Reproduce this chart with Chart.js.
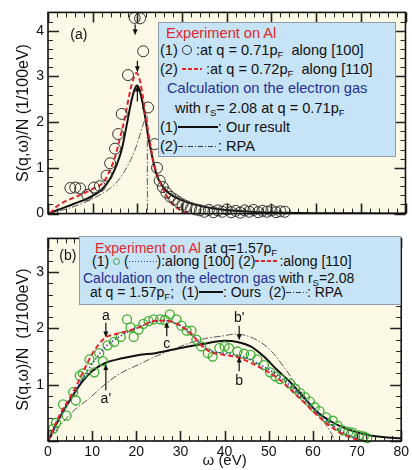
<!DOCTYPE html>
<html>
<head>
<meta charset="utf-8">
<script src="https://cdn.jsdelivr.net/npm/chart.js@4.4.1/dist/chart.umd.min.js"></script>
<style>
    body { margin: 0; background: #fff; }
    #wrap { position: relative; width: 412px; height: 470px; overflow: hidden; }
    canvas { position: absolute; left: 0; }
    .box { position: absolute; background: #c7e3f6; border: 1px solid #8f9daa; box-sizing: border-box;
           font-family: "Liberation Sans", Arial, Helvetica, sans-serif; color: #111; white-space: nowrap; }
    .box div { position: absolute; }
    #boxA { left: 158px; top: 22px; width: 238px; height: 135px; font-size: 14.6px; line-height: 16px; }
    #boxB { left: 79px; top: 236px; width: 322px; height: 69px; font-size: 14px; line-height: 15px; }
    .red { color: #e2232b; }
    .navy { color: #262f92; }
    sub { font-size: 9.5px; line-height: 0; vertical-align: -3px; }
    .smp { display: inline-block; vertical-align: 4px; }
    .solid { height: 2px; background: #111; }
    .dashR { height: 2px; background: repeating-linear-gradient(90deg, #e2232b 0 4px, transparent 4px 6px); }
    .dotB { height: 1px; background: repeating-linear-gradient(90deg, #2a3aa8 0 1px, transparent 1px 3px); }
    .dd { height: 1px; background: repeating-linear-gradient(90deg, #333 0 5px, transparent 5px 7px, #333 7px 8px, transparent 8px 10px); }
    .circ { display: inline-block; width: 8px; height: 8px; border: 1px solid #333; border-radius: 50%; vertical-align: 0; }
    .gc { display: inline-block; width: 5px; height: 5px; border: 1.5px solid #3aae34; border-radius: 50%; vertical-align: 1px; }
</style>
</head>
<body>
<div id="wrap">
    <canvas id="chartA" width="412" height="226" style="top:0"></canvas>
    <canvas id="chartB" width="412" height="244" style="top:226px"></canvas>

    <div class="box" id="boxA">
        <div style="top:2px;left:7px"><span class="red">Experiment on Al</span></div>
        <div style="top:19px;left:1px">(1) <span class="circ"></span> :at q = 0.71p<sub>F</sub>&nbsp; along [100]</div>
        <div style="top:38px;left:1px">(2) <span class="smp dashR" style="width:20px"></span> :at q = 0.72p<sub>F</sub>&nbsp; along [110]</div>
        <div style="top:57px;left:8px"><span class="navy">Calculation on the electron gas</span></div>
        <div style="top:77px;left:16px">with r<sub>S</sub>= 2.08 at q = 0.71p<sub>F</sub></div>
        <div style="top:96px;left:1px">(1)<span class="smp solid" style="width:40px"></span>: Our result</div>
        <div style="top:115px;left:1px">(2)<span class="smp dd" style="width:40px"></span>: RPA</div>
    </div>

    <div class="box" id="boxB">
        <div style="top:4px;left:15px"><span class="red">Experiment on Al</span> at q=1.57p<sub>F</sub></div>
        <div style="top:17px;left:12px">(1) <span class="gc"></span> (<span class="smp dotB" style="width:28px"></span>):along [100] (2)<span class="smp dashR" style="width:24px"></span>:along [110]</div>
        <div style="top:34px;left:3px"><span class="navy">Calculation on the electron gas</span> with r<sub>S</sub>=2.08</div>
        <div style="top:48px;left:10px">at q = 1.57p<sub>F</sub>;&nbsp; (1)<span class="smp solid" style="width:24px"></span>: Ours&nbsp; (2)<span class="smp dd" style="width:21px"></span>: RPA</div>
    </div>
</div>

<script>
// ---- datos panel (a): q = 0.71 pF ----
var aCircW = [5.0, 6.1, 7.2, 8.8, 10.3, 11.6, 13.1, 13.9, 15.0, 15.7, 16.5, 17.9, 19.4, 20.6, 21.3, 22.4, 23.9, 24.4, 25.0, 25.7,
              26.5, 27.4, 28.3, 29.2, 30.1, 31.0, 32.0, 33.0, 34.0, 35.0, 36.0, 37.0, 38.0, 39.0, 40.0, 41.0, 42.0, 43.0,
              44.0, 45.0, 46.0, 47.0, 48.0, 49.0, 50.0, 51.0, 52.0, 53.0];
var aCircS = [0.56, 0.57, 0.55, 0.41, 0.57, 0.6, 0.83, 1.1, 1.42, 1.74, 2.18, 3.03, 4.28, 4.27, 3.55, 2.32, 1.52, 1.0, 0.72, 0.58,
              0.46, 0.37, 0.31, 0.25, 0.2, 0.16, 0.12, 0.09, 0.07, 0.04, 0.08, 0.03, 0.07, 0.04, 0.09, 0.03, 0.06, 0.02,
              0.07, 0.04, 0.08, 0.03, 0.06, 0.04, 0.07, 0.03, 0.05, 0.04];
var aRedW = [0.5, 1.5, 3.5, 7, 10, 12.5, 14.2, 15.2, 16.1, 17.0, 17.6, 18.2, 18.8, 19.4, 19.8, 20.2, 20.7, 21.3, 21.9, 22.5,
             23.5, 24.3, 25.0, 26.5, 28.0, 29.5, 30.8, 31.7];
var aRedS = [0, 0.12, 0.25, 0.4, 0.54, 0.7, 1.02, 1.3, 1.65, 2.0, 2.3, 2.6, 2.85, 3.02, 3.08, 3.02, 2.85, 2.5, 2.1, 1.75,
             1.18, 0.9, 0.7, 0.4, 0.2, 0.08, 0.02, 0];
var aOurW = [0, 3, 6, 9, 12, 14, 15.5, 16.5, 17.6, 18.7, 19.4, 19.9, 20.4, 21.0, 21.6, 22.4, 23.2, 24.3, 25.5, 27,
             29.5, 32, 35, 38, 42, 47, 52, 60, 70, 80];
var aOurS = [0, 0.11, 0.22, 0.34, 0.52, 0.78, 1.1, 1.4, 1.93, 2.48, 2.72, 2.8, 2.73, 2.5, 2.2, 1.7, 1.3, 0.85, 0.62, 0.45,
             0.31, 0.22, 0.15, 0.1, 0.06, 0.03, 0.02, 0.01, 0.005, 0.003];
var aRpaW = [0, 3, 6, 9, 12, 14, 16, 18, 19.5, 20.5, 21.3, 21.9, 22.2, 22.25];
var aRpaS = [0, 0.07, 0.16, 0.28, 0.43, 0.56, 0.76, 1.08, 1.4, 1.7, 1.95, 2.1, 2.14, 0];

// ---- datos panel (b): q = 1.57 pF ----
var bCircW = [1.2, 1.8, 3.4, 4.2, 5.7, 6.3, 7.2, 7.9, 9.4, 10.5, 11.6, 12.4, 13.5, 15.0, 16.5, 17.9, 18.7, 19.4, 20.5, 21.6,
              22.8, 23.9, 25.4, 26.5, 27.6, 29.1, 30.2, 31.4, 32.5, 33.6, 34.7, 36.2, 37.3, 38.8, 40.0, 41.0, 42.9, 44.4,
              45.9, 47.4, 48.9, 50.3, 51.5, 52.6, 54.8, 56.0, 57.1, 58.2, 59.3, 60.4, 61.5, 63.0, 64.5, 65.6, 66.8, 68.0,
              69.0, 70.5, 71.5, 72.3];
var bCircS = [0.22, 0.32, 0.65, 0.45, 0.87, 0.72, 1.16, 1.2, 1.45, 1.22, 1.56, 1.42, 1.7, 1.76, 1.85, 2.16, 2.02, 1.85, 1.98, 2.08,
              2.13, 2.16, 2.16, 2.15, 2.25, 2.16, 2.05, 1.96, 1.96, 1.8, 1.68, 1.56, 1.5, 1.65, 1.68, 1.65, 1.59, 1.55,
              1.53, 1.45, 1.35, 1.22, 1.15, 1.1, 1.02, 0.93, 0.85, 0.78, 0.7, 0.6, 0.53, 0.42, 0.36, 0.27, 0.19, 0.16,
              0.15, 0.1, 0.08, 0.05];
var bRedW = [0, 2.7, 5.7, 7.9, 10.1, 12.7, 15.4, 18.3, 20.6, 23.5, 26.5, 29.5, 32.5, 34.7, 36.9, 39.9, 42.9, 45.9, 48.9, 51.8,
             54.8, 57.8, 60.8, 63.8, 66.7, 69.7, 71.6];
var bRedS = [0, 0.47, 0.87, 1.22, 1.56, 1.82, 1.9, 1.96, 2.02, 2.12, 2.14, 2.07, 1.9, 1.7, 1.58, 1.53, 1.49, 1.39, 1.27, 1.13,
             0.93, 0.7, 0.47, 0.27, 0.13, 0.03, 0];
var bBlueW = [0, 2.7, 5.7, 7.9, 9.4, 11, 13.1, 16.1, 18.3, 20.6, 23.5, 26.5, 29.5, 32.5, 34.7, 36.9, 39.9, 42.9, 45.9, 48.9,
              51.8, 54.8, 57.8, 60.8, 63.8, 66.7, 69.7, 72];
var bBlueS = [0, 0.45, 0.82, 1.12, 1.3, 1.48, 1.68, 1.85, 1.95, 2.02, 2.12, 2.14, 2.07, 1.9, 1.71, 1.6, 1.56, 1.53, 1.44, 1.32,
              1.18, 0.99, 0.76, 0.53, 0.32, 0.16, 0.05, 0];
var bOurW = [0, 2.7, 5.7, 7.9, 10.1, 13.1, 16.8, 20.6, 24.3, 28, 31.7, 35.5, 39.9, 42.9, 45.9, 48.9, 51.8, 54.8, 57.8, 60.8,
             63.8, 67.5, 71.2, 75.7, 80];
var bOurS = [0, 0.42, 0.82, 1.07, 1.25, 1.39, 1.47, 1.53, 1.56, 1.62, 1.68, 1.73, 1.78, 1.76, 1.68, 1.5, 1.27, 1.05, 0.79, 0.53,
             0.36, 0.22, 0.13, 0.07, 0.05];
var bRpaW = [0, 2.5, 5.7, 9.4, 13.1, 16.8, 20.6, 24.3, 28, 31.7, 35.5, 39.9, 42.2, 44.5, 47.4, 50.3, 53.3, 56.3, 59.3, 62.3,
             63.8, 64.9];
var bRpaS = [0, 0.25, 0.53, 0.76, 1.02, 1.22, 1.36, 1.5, 1.62, 1.73, 1.82, 1.87, 1.9, 1.88, 1.79, 1.62, 1.33, 0.99, 0.65, 0.36,
             0.19, 0.02];

// ejes
var xTicks = [0, 10, 20, 30, 40, 50, 60, 70, 80];
var yTicksA = [0, 1, 2, 3, 4];
var yTicksB = [1, 2, 3];

// flechas y letras (omega, desde, hasta)
var aArrowW = [19.5, 20.0, 20.0];
var aArrowFrom = [4.14, 3.34, 2.45];
var aArrowTo = [3.9, 3.09, 2.8];
var aLabels = ['(a)'];
var aLabelW = [6.9];
var aLabelS = [3.9];

var bArrowW = [13.1, 13.1, 26.9, 43.3, 43.3];
var bArrowFrom = [2.1, 0.9, 1.86, 2.05, 1.24];
var bArrowTo = [1.84, 1.37, 2.12, 1.79, 1.5];
var bLabels = ['(b)', 'a', "a'", 'c', "b'", 'b'];
var bLabelW = [4.5, 13.1, 13.1, 26.9, 43.3, 43.3];
var bLabelS = [3.28, 2.22, 0.74, 1.72, 2.18, 1.06];

function pts(xs, ys) {
    return xs.map(function (x, i) { return { x: x, y: ys[i] }; });
}

Chart.defaults.font.family = '"Liberation Sans", Arial, Helvetica, sans-serif';
Chart.defaults.color = '#111';

// fondo crema, marcas hacia dentro, marco, flechas
var framePlugin = {
    id: 'frame',
    beforeDatasetsDraw: function (chart) {
        var a = chart.chartArea, ctx = chart.ctx, xs = chart.scales.x, ys = chart.scales.y;
        ctx.save();
        ctx.fillStyle = '#fdf9e7';
        ctx.fillRect(a.left, a.top, a.right - a.left, a.bottom - a.top);
        ctx.strokeStyle = '#222';
        [false, true].forEach(function (major) {
            ctx.lineWidth = major ? 1.6 : 1;
            ctx.beginPath();
            for (var i = 0; i <= 40; i++) {
                var v = i * 2;
                if ((v % 10 === 0) !== major) continue;
                var px = Math.round(xs.getPixelForValue(v)) + 0.5, len = major ? 10 : 5;
                ctx.moveTo(px, a.bottom); ctx.lineTo(px, a.bottom - len);
                ctx.moveTo(px, a.top); ctx.lineTo(px, a.top + len);
            }
            for (var j = 0; j * 0.2 <= ys.max + 1e-6; j++) {
                if ((j % 5 === 0) !== major) continue;
                var py = Math.round(ys.getPixelForValue(j * 0.2)) + 0.5, l2 = major ? 11 : 5;
                ctx.moveTo(a.left, py); ctx.lineTo(a.left + l2, py);
                ctx.moveTo(a.right, py); ctx.lineTo(a.right - l2, py);
            }
            ctx.stroke();
        });
        ctx.restore();
    },
    afterDatasetsDraw: function (chart, args, opts) {
        var a = chart.chartArea, ctx = chart.ctx, xs = chart.scales.x, ys = chart.scales.y;
        ctx.save();
        ctx.strokeStyle = '#111';
        ctx.lineWidth = 1.6;
        ctx.strokeRect(a.left, a.top, a.right - a.left, a.bottom - a.top);

        ctx.fillStyle = '#111';
        ctx.lineWidth = 1.2;
        (opts.arrowW || []).forEach(function (w, i) {
            var x = xs.getPixelForValue(w), y0 = ys.getPixelForValue(opts.arrowFrom[i]), y1 = ys.getPixelForValue(opts.arrowTo[i]);
            var d = y1 > y0 ? 1 : -1;
            ctx.beginPath();
            ctx.moveTo(x, y0); ctx.lineTo(x, y1 - d * 4);
            ctx.stroke();
            ctx.beginPath();
            ctx.moveTo(x, y1); ctx.lineTo(x - 2.5, y1 - d * 6); ctx.lineTo(x + 2.5, y1 - d * 6);
            ctx.closePath();
            ctx.fill();
        });
        ctx.font = '14px "Liberation Sans", Arial, sans-serif';
        ctx.textAlign = 'center';
        ctx.textBaseline = 'middle';
        (opts.labels || []).forEach(function (t, i) {
            ctx.fillText(t, xs.getPixelForValue(opts.labelW[i]), ys.getPixelForValue(opts.labelS[i]));
        });
        ctx.restore();
    }
};

function yAxis(max, ticks) {
    return {
        type: 'linear', min: 0, max: max,
        grid: { display: false, drawTicks: false },
        border: { display: false },
        afterBuildTicks: function (s) { s.ticks = ticks.map(function (v) { return { value: v }; }); },
        afterFit: function (s) { s.width = 48; },
        ticks: { font: { size: 14 }, padding: 4 },
        title: { display: true, text: max > 4 ? 'S(q,ω)/N (1/100eV)' : 'S(q,ω)/N  (1/100eV)', font: { size: 16 }, padding: { top: 14, bottom: 0 } }
    };
}

var lineBase = { pointRadius: 0, fill: false, cubicInterpolationMode: 'monotone' };

// Panel (a)
var ctxA = document.getElementById('chartA').getContext('2d');
var chartA = new Chart(ctxA, {
    type: 'line',
    data: {
        datasets: [
            { label: 'Exp [100]', data: pts(aCircW, aCircS), showLine: false, pointRadius: 5.5, pointBorderWidth: 1,
              pointBorderColor: '#333', pointBackgroundColor: 'rgba(0,0,0,0)', clip: false },
            Object.assign({ label: 'Exp [110]', data: pts(aRedW, aRedS), borderColor: '#e2232b', borderWidth: 2, borderDash: [5, 3] }, lineBase),
            Object.assign({ label: 'Our result', data: pts(aOurW, aOurS), borderColor: '#111', borderWidth: 2 }, lineBase),
            Object.assign({ label: 'RPA', data: pts(aRpaW, aRpaS), borderColor: '#555', borderWidth: 1, borderDash: [7, 2, 1.5, 2] }, lineBase)
        ]
    },
    options: {
        responsive: false, animation: false, devicePixelRatio: 1, events: [],
        layout: { padding: { top: 7, right: 6, bottom: 6, left: 0 } },
        plugins: {
            legend: { display: false }, tooltip: { enabled: false },
            frame: { arrowW: aArrowW, arrowFrom: aArrowFrom, arrowTo: aArrowTo, labels: aLabels, labelW: aLabelW, labelS: aLabelS }
        },
        scales: {
            x: { type: 'linear', min: 0, max: 80, display: false },
            y: yAxis(4.4, yTicksA)
        }
    },
    plugins: [framePlugin]
});

// Panel (b)
var ctxB = document.getElementById('chartB').getContext('2d');
var chartB = new Chart(ctxB, {
    type: 'line',
    data: {
        datasets: [
            Object.assign({ label: 'Exp [110]', data: pts(bRedW, bRedS), borderColor: '#e2232b', borderWidth: 2, borderDash: [5, 3] }, lineBase),
            Object.assign({ label: 'Exp [100] line', data: pts(bBlueW, bBlueS), borderColor: '#2a3aa8', borderWidth: 1.4, borderDash: [1.5, 2] }, lineBase),
            { label: 'Exp [100]', data: pts(bCircW, bCircS), showLine: false, pointRadius: 4.5, pointBorderWidth: 1.3,
              pointBorderColor: '#3aae34', pointBackgroundColor: 'rgba(0,0,0,0)', clip: false },
            Object.assign({ label: 'Ours', data: pts(bOurW, bOurS), borderColor: '#111', borderWidth: 2 }, lineBase),
            Object.assign({ label: 'RPA', data: pts(bRpaW, bRpaS), borderColor: '#555', borderWidth: 1, borderDash: [7, 2, 1.5, 2] }, lineBase)
        ]
    },
    options: {
        responsive: false, animation: false, devicePixelRatio: 1, events: [],
        layout: { padding: { top: 4, right: 6, bottom: 0, left: 0 } },
        plugins: {
            legend: { display: false }, tooltip: { enabled: false },
            frame: { arrowW: bArrowW, arrowFrom: bArrowFrom, arrowTo: bArrowTo, labels: bLabels, labelW: bLabelW, labelS: bLabelS }
        },
        scales: {
            x: {
                type: 'linear', min: 0, max: 80,
                grid: { display: false, drawTicks: false },
                border: { display: false },
                afterBuildTicks: function (s) { s.ticks = xTicks.map(function (v) { return { value: v }; }); },
                afterFit: function (s) { s.height = 29; },
                ticks: { font: { size: 14 }, padding: 3, maxRotation: 0 },
                title: { display: true, text: 'ω (eV)', font: { size: 15 }, padding: { top: 0, bottom: 0 } }
            },
            y: yAxis(3.6, yTicksB)
        }
    },
    plugins: [framePlugin]
});
</script>
</body>
</html>
